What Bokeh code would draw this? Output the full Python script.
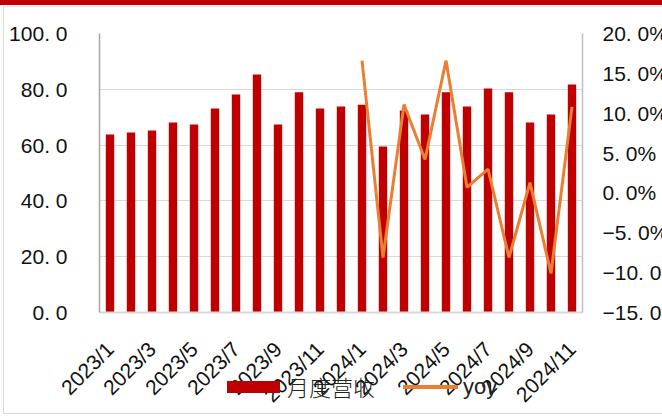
from bokeh.plotting import figure
from bokeh.models import Range1d, LinearAxis, FixedTicker, CustomJSTickFormatter, Div
from bokeh.layouts import column
from bokeh.embed import file_html
from bokeh.resources import INLINE
import math

months = ["2023/1", "2023/2", "2023/3", "2023/4", "2023/5", "2023/6",
          "2023/7", "2023/8", "2023/9", "2023/10", "2023/11", "2023/12",
          "2024/1", "2024/2", "2024/3", "2024/4", "2024/5", "2024/6",
          "2024/7", "2024/8", "2024/9", "2024/10", "2024/11"]
revenue = [63.8, 64.5, 65.2, 68.1, 67.4, 73.1, 78.1, 85.3, 67.4, 78.9, 73.1, 73.8,
           74.5, 59.5, 72.4, 71.0, 78.9, 73.8, 80.3, 78.9, 68.1, 71.0, 81.7]
yoy_months = ["2024/1", "2024/2", "2024/3", "2024/4", "2024/5", "2024/6",
              "2024/7", "2024/8", "2024/9", "2024/10", "2024/11"]
yoy = [16.6, -8.1, 11.1, 4.2, 16.6, 0.7, 3.0, -8.1, 1.3, -10.1, 10.8]
shown_labels = ["2023/1", "2023/3", "2023/5", "2023/7", "2023/9", "2023/11",
                "2024/1", "2024/3", "2024/5", "2024/7", "2024/9", "2024/11"]
left_ticks = [0, 20, 40, 60, 80, 100]
right_ticks = [-15, -10, -5, 0, 5, 10, 15, 20]
series_names = ["月度营收", "yoy"]

x_bar = [months.index(m) for m in months]
x_yoy = [months.index(m) for m in yoy_months]
x_ticks = [months.index(m) for m in shown_labels]

W, H = 683, 418
p = figure(width=W, height=H, x_range=Range1d(-0.5, len(months) - 0.5),
           y_range=Range1d(0, 100), output_backend="svg", toolbar_location=None,
           min_border_left=99, min_border_right=W - 583, min_border_top=33,
           min_border_bottom=H - 312)
p.styles = {
    "background": ("linear-gradient(#C00000,#C00000) 0px 0px / 100% 5px no-repeat,"
                   "linear-gradient(#D9D9D9,#D9D9D9) 3px 6px / 1px 408px no-repeat,"
                   "linear-gradient(#D9D9D9,#D9D9D9) 3px 413px / 100% 1px no-repeat,"
                   "linear-gradient(#E6E6E6,#E6E6E6) 3px 6px / 100% 1px no-repeat,"
                   "white"),
}
p.extra_y_ranges = {"yoy": Range1d(-15, 20)}
p.outline_line_color = None
p.background_fill_color = "white"
p.border_fill_color = None

bars = p.vbar(x=x_bar, top=revenue, width=0.4, fill_color="#C00000", line_color=None)
ln = p.line(x=x_yoy, y=yoy, y_range_name="yoy", line_color="#ED7D31", line_width=3)

# left axis
ya = p.yaxis[0]
ya.ticker = FixedTicker(ticks=left_ticks)
ya.formatter = CustomJSTickFormatter(code="return tick.toFixed(1).replace('.', '. ');")
ya.major_tick_out = 0
ya.major_tick_in = 0
ya.minor_tick_line_color = None
ya.axis_line_color = "#A6A6A6"
ya.axis_line_width = 1.5
ya.major_label_standoff = 32
ya.major_label_text_font = "Liberation Sans"
ya.major_label_text_font_size = "21px"
ya.major_label_text_color = "#111111"

# right axis
ra = LinearAxis(y_range_name="yoy", ticker=FixedTicker(ticks=right_ticks),
                formatter=CustomJSTickFormatter(
                    code="return tick.toFixed(1).replace('.', '. ').replace('-', '\u2212') + '%';"))
ra.major_tick_out = 0
ra.major_tick_in = 0
ra.minor_tick_line_color = None
ra.axis_line_color = "#BFBFBF"
ra.axis_line_width = 1.5
ra.major_label_standoff = 20
ra.major_label_text_font = "Liberation Sans"
ra.major_label_text_font_size = "21px"
ra.major_label_text_color = "#111111"
p.add_layout(ra, "right")

# x axis
xa = p.xaxis[0]
xa.ticker = FixedTicker(ticks=x_ticks)
xa.major_label_overrides = {x_ticks[i]: shown_labels[i] for i in range(len(x_ticks))}
xa.major_label_orientation = math.pi / 4
xa.major_tick_out = 0
xa.major_tick_in = 0
xa.minor_tick_line_color = None
xa.axis_line_color = "#D9D9D9"
xa.axis_line_width = 2
xa.major_label_standoff = 33
xa.major_label_text_font = "Liberation Sans"
xa.major_label_text_font_size = "21px"
xa.major_label_text_color = "#111111"

p.xgrid.grid_line_color = None
p.ygrid.grid_line_color = "#D9D9D9"
p.ygrid.grid_line_width = 1
p.ygrid.ticker = FixedTicker(ticks=left_ticks)

# legend (overlaid on the x-label area, as in the reference)
legend_html = (
    '<div style="display:flex;align-items:center;height:30px;font-size:22px;color:#222;">'
    '<span style="display:inline-block;width:53px;height:12px;background:#C00000;margin-left:7px;"></span>'
    f'<span style="font-family:\'Noto Sans CJK SC\';font-weight:300;margin-left:7px;">{series_names[0]}</span>'
    '<span style="display:inline-block;width:55px;height:4px;background:#ED7D31;margin-left:28px;"></span>'
    f'<span style="font-family:\'Liberation Sans\';margin-left:5px;">{series_names[1]}</span>'
    '</div>'
)
legend_div = Div(text=legend_html, width=320, height=30,
                 styles={"margin-top": "-46px", "margin-left": "220px"})

layout = column(p, legend_div, spacing=0)
open("out.html", "w").write(file_html(layout, INLINE))
